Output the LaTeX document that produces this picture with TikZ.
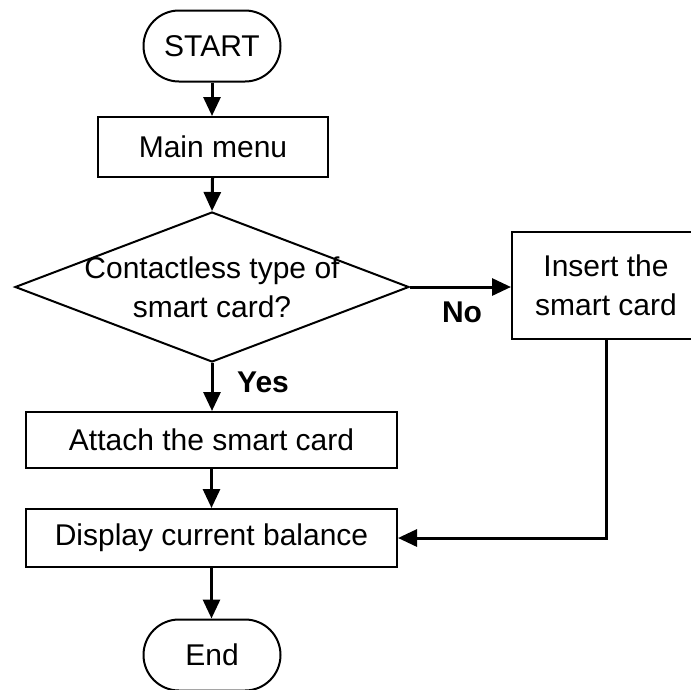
\documentclass[tikz,border=0pt]{standalone}
\usepackage{fontspec}
\setmainfont{Liberation Sans}
\usetikzlibrary{shapes,arrows.meta,calc}
\tikzset{
	term/.style={rounded rectangle,draw,line width=2pt,minimum width=137pt,minimum height=71pt,inner sep=0pt,font=\fontsize{30}{39}\selectfont},
	proc/.style={rectangle,draw,line width=2pt,inner sep=0pt,align=center,font=\fontsize{30}{39}\selectfont},
	decision/.style={diamond,draw,line width=2pt,minimum width=394pt,minimum height=150pt,inner sep=0pt},
	flow/.style={-{Triangle[width=17pt,length=19pt]},line width=3pt},
	answer/.style={font=\bfseries\fontsize{30}{36}\selectfont}
}
\begin{document}
\begin{tikzpicture}[x=1pt,y=-1pt]
		\useasboundingbox (0,0) rectangle (691,689);
		%%%% flow nodes
		\node[term] (start) at (212,46) {START};
		\node[proc,minimum width=230pt,minimum height=60pt] (menu) at (213,147) {Main menu};
		\node[decision,label={[align=center,font=\fontsize{30}{39}\selectfont]center:Contactless type of\\smart card?}] (check) at (212,287) {};
		\node[proc,minimum width=188pt,minimum height=107pt] (insert) at (606,285.5) {Insert the\\smart card};
		\node[proc,minimum width=371pt,minimum height=56pt] (attach) at (211.5,440) {Attach the smart card};
		\node[proc,minimum width=371pt,minimum height=58pt] (display) at (211.5,538) {Display current balance};
		\node[term] (stop) at (212,655) {End};
		
		%%%% answers
		\node[answer] (yes) at (263,382) {Yes};
		\node[answer] (no) at (462,312) {No};
		
		\draw[flow] (start) -- (start|-menu.north);
		\draw[flow] (menu) -- (check.north);
		\draw[flow] (check.south) -- (check|-attach.north);
		\draw[flow] (check.east) -- (insert.west|-check.east);
		\draw[flow] (attach) -- (attach|-display.north);
		\draw[flow] (display) -- (display|-stop.north);
		\draw[flow] (insert.south) |- (display.east);
		
	\end{tikzpicture}
\end{document}
